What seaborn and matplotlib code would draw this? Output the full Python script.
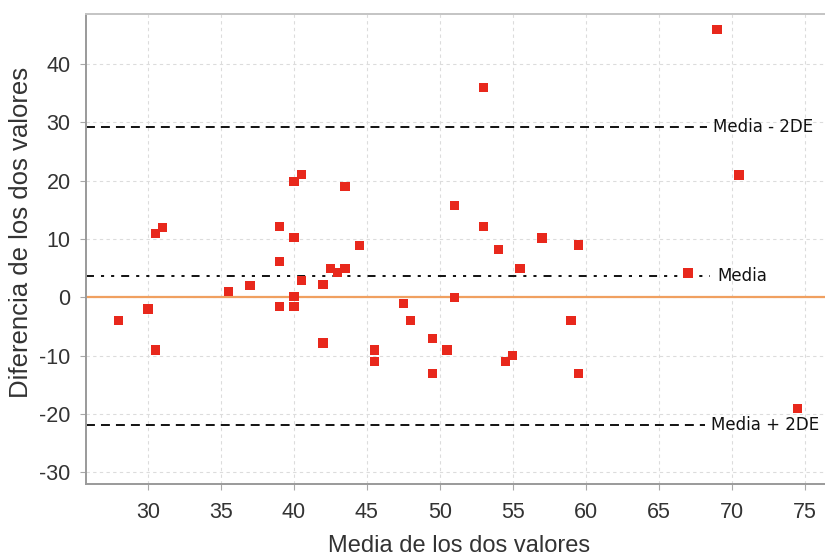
import numpy as np
import pandas as pd
import matplotlib
matplotlib.use("Agg")
import matplotlib.pyplot as plt
import seaborn as sns

# --- data (Bland-Altman style) ---
media = [28, 30, 30.5, 30.5, 31, 35.5, 37, 39, 39, 39, 40, 40, 40, 40,
         40.5, 40.5, 42, 42, 42.5, 43, 43.5, 43.5, 44.5, 45.5, 45.5, 47.5,
         48, 49.5, 49.5, 50.5, 51, 51, 53, 53, 54, 54.5, 55, 55.5, 57, 59,
         59.5, 59.5, 67, 69, 70.5, 74.5]
diferencia = [-4, -2, -9, 11, 12, 1, 2, 12.2, 6.2, -1.6, 10.3, 19.9, 0.2, -1.6,
              21.1, 2.9, 2.2, -7.8, 5, 4.3, 5, 19, 8.9, -9, -11, -1,
              -4, -7, -13, -9, 15.8, 0, 36, 12.2, 8.2, -11, -10, 5, 10.2, -4,
              9, -13, 4.2, 46, 21, -19]

ref_labels = ["Media - 2DE", "Media", "Media + 2DE"]
ref_values = [29.2, 3.6, -21.8]
ref_styles = [(0, (4.6, 3.1)), (0, (4.1, 3.6, 1.6, 3.6, 1.6, 3.6)), (0, (4.6, 3.1))]
ref_text_x = [68.75, 69.0, 68.6]

df = pd.DataFrame({"x": media, "y": diferencia})

sns.set_style("white")
plt.rcParams["font.family"] = ["Liberation Sans", "DejaVu Sans"]
plt.rcParams["axes.unicode_minus"] = False

fig = plt.figure(figsize=(8.25, 5.59), dpi=100)
ax = fig.add_axes([86 / 825, 1 - 484 / 559, 1 - 86 / 825, (484 - 14) / 559])

ax.grid(True, color="#dcdcdc", linestyle=(0, (3, 3)), linewidth=0.8)
ax.set_axisbelow(True)

# zero line
ax.axhline(0, color="#f0a060", linewidth=1.6, zorder=1)

# reference lines with labels
for lab, val, ls, tx in zip(ref_labels, ref_values, ref_styles, ref_text_x):
    ax.plot([25.75, tx - 0.45], [val, val], color="#111111", linewidth=1.4,
            linestyle=ls, zorder=2)
    ax.text(tx, val, lab, fontsize=12, family="DejaVu Sans",
            ha="left", va="center", color="#111111", zorder=4)

sns.scatterplot(data=df, x="x", y="y", marker="s", s=45, color="#e8281c",
                edgecolor="none", linewidth=0, ax=ax, zorder=3)

ax.set_xlim(25.75, 76.4)
ax.set_ylim(-32, 48.6)
ax.set_xticks(np.arange(30, 80, 5))
ax.set_yticks(np.arange(-30, 50, 10))

ax.spines["left"].set_color("#9a9a9a")
ax.spines["bottom"].set_color("#9a9a9a")
ax.spines["top"].set_color("#c4c4c4")
for side in ["left", "bottom", "top"]:
    ax.spines[side].set_linewidth(1.4)
ax.spines["right"].set_visible(False)

ax.tick_params(axis="both", labelcolor="#333333", labelsize=15.5, length=4,
               width=0.8, color="#a8a8a8", direction="out", left=True, bottom=True)
ax.tick_params(axis="y", pad=7)
ax.tick_params(axis="x", pad=9)

ax.set_xlabel("Media de los dos valores", fontsize=17, color="#333333")
ax.set_ylabel("Diferencia de los dos valores", fontsize=18.5, color="#333333")
ax.xaxis.set_label_coords(0.505, -0.108)
ax.yaxis.set_label_coords(-0.072, 0.536)

fig.savefig("out.png", dpi=100)
